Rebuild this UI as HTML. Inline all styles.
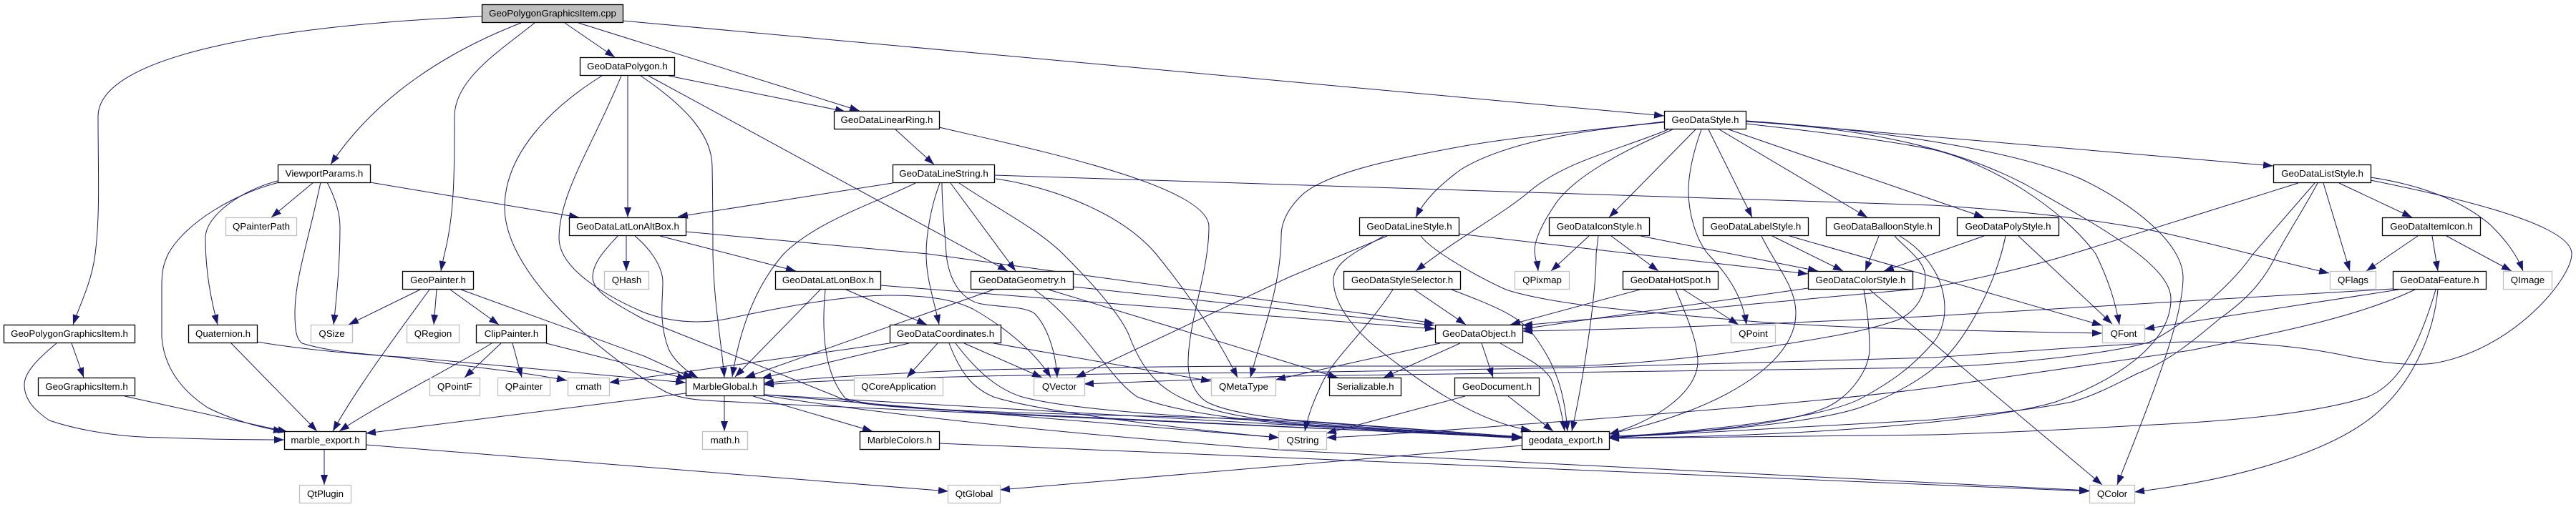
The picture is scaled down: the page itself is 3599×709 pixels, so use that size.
<!DOCTYPE html>
<html><head><meta charset="utf-8"><style>
html,body{margin:0;padding:0;background:#fff;width:3599px;height:709px;overflow:hidden}
svg{display:block}
.e path{fill:none;stroke:#191970;stroke-width:1;marker-end:url(#a)}
.n rect{fill:#fff;stroke:#000;stroke-width:1.3}
.g rect{fill:#fff;stroke:#bfbfbf;stroke-width:1.3}
text{font-family:"Liberation Sans",sans-serif;font-size:13.33px;text-anchor:middle;fill:#000}
</style></head><body>
<svg xmlns="http://www.w3.org/2000/svg" width="3599" height="709" viewBox="0 0 3599 709">
<defs><marker id="a" markerUnits="userSpaceOnUse" markerWidth="14" markerHeight="10" refX="14" refY="5" orient="auto"><path d="M0,0L14,5L0,10z" fill="#191970"/></marker></defs>
<g class="e">
<path d="M673,23C430,33 137,70 137,163C137,240 140,300 133,355C128,395 112,425 102,454"/>
<path d="M728,32C625,72 525,135 462,230"/>
<path d="M747,32C700,70 635,110 635,163C635,240 635,300 621,355Q618,368 616,379"/>
<path d="M789,32L859,80"/>
<path d="M808,32L1201,155"/>
<path d="M870,29L2325,162"/>
<path d="M877,106L877,304"/>
<path d="M934,106L1181,156"/>
<path d="M906,106L1408,379"/>
<path d="M895,106C960,150 995,190 995,233C996,290 996,320 996,355C997,420 1008,480 1012,528"/>
<path d="M841,106C770,150 705,215 705,290C705,390 860,510 930,548C960,562 1000,560 1043,563L2126,612"/>
<path d="M868,106C830,200 781,270 781,333C781,380 860,420 900,437C940,452 985,453 1020,445C1100,428 1180,413 1244,413C1300,413 1335,420 1359,432C1400,455 1445,490 1468,528"/>
<path d="M863,330C850,345 828,365 828,388C828,410 870,430 900,447L1170,555C1190,566 1250,570 1400,578L2126,612"/>
<path d="M1251,181L1305,230"/>
<path d="M1312,178C1450,210 1689,260 1689,317C1689,380 1660,450 1660,508C1660,530 1670,552 1686,562C1710,575 1760,582 1800,587L2126,611"/>
<path d="M1247,256L947,303"/>
<path d="M1279,256C1220,285 1140,310 1095,355C1060,395 1035,450 1023,527"/>
<path d="M1313,256C1300,290 1294,330 1294,355C1294,390 1305,420 1312,454"/>
<path d="M1316,256C1316,290 1320,320 1322,355C1326,395 1345,420 1371,425C1400,430 1430,428 1445,438C1462,455 1475,490 1477,528"/>
<path d="M1328,256L1419,379"/>
<path d="M1340,256C1390,290 1450,320 1485,355C1530,400 1565,440 1577,468C1600,530 1630,548 1663,562C1700,578 1750,585 1800,592L2126,612"/>
<path d="M1391,250C1450,258 1560,290 1615,355C1660,410 1700,470 1729,528"/>
<path d="M1389,245L2700,287C2800,293 2920,305 3010,323C3090,340 3180,365 3254,382"/>
<path d="M2325,170C2230,182 2120,190 2030,207C1950,222 1860,240 1822,270C1800,290 1790,310 1790,330C1790,400 1762,470 1747,528"/>
<path d="M2325,171C2230,180 2110,195 2041,237C2010,260 1990,280 1978,304"/>
<path d="M2331,181C2260,210 2190,225 2140,265C2100,300 2040,330 1978,379"/>
<path d="M2337,181C2270,210 2196,247 2170,290C2150,320 2144,340 2144,350C2144,360 2148,370 2149,379"/>
<path d="M2369,181L2248,304"/>
<path d="M2377,181C2365,215 2359,245 2359,267C2359,300 2370,335 2386,355C2420,390 2435,420 2440,454"/>
<path d="M2387,181L2448,304"/>
<path d="M2402,181L2609,304"/>
<path d="M2415,181L2772,304"/>
<path d="M2439,169L3176,232"/>
<path d="M2439,169C2600,180 2800,205 2907,250C2980,285 3050,340 3050,388C3050,450 3000,570 2958,678"/>
<path d="M2439,170C2580,178 2720,200 2830,258C2930,315 3033,370 3033,418C3033,480 2960,530 2872,562C2780,590 2500,612 2248,612"/>
<path d="M2439,173C2530,183 2630,195 2700,209C2780,228 2880,290 2928,355C2945,390 2955,420 2961,454"/>
<path d="M1938,330L1800,388L1503,528"/>
<path d="M1933,330C1900,350 1863,365 1863,392C1863,430 1900,470 1938,498C1980,530 2060,590 2139,602"/>
<path d="M1985,330C2000,350 2060,385 2104,405C2180,430 2350,440 2431,448C2550,458 2700,462 2937,466"/>
<path d="M2038,327L2526,383"/>
<path d="M2220,330L2167,379"/>
<path d="M2233,330L2230,355C2230,420 2210,540 2196,603"/>
<path d="M2251,330L2317,379"/>
<path d="M2292,330L2540,379"/>
<path d="M2461,330C2480,370 2509,400 2509,438C2509,510 2400,575 2248,607"/>
<path d="M2476,330L2575,379"/>
<path d="M2500,330L2937,455"/>
<path d="M2625,330L2606,379"/>
<path d="M2647,330C2665,350 2690,365 2690,388C2690,410 2680,435 2650,448C2600,465 2550,472 2489,482C2400,497 2300,508 2202,512C2100,512 1900,512 1800,512C1650,512 1400,515 1300,520C1220,524 1140,528 1067,536"/>
<path d="M2654,330C2680,345 2717,380 2717,432C2717,450 2710,470 2700,480C2670,515 2640,535 2604,555C2570,575 2480,595 2248,612"/>
<path d="M2772,330L2632,379"/>
<path d="M2802,330C2790,390 2755,460 2720,498C2690,530 2640,555 2604,568C2560,585 2450,600 2248,612"/>
<path d="M2820,330L2951,453"/>
<path d="M3211,256L2895,355C2830,375 2760,390 2700,402L2127,455"/>
<path d="M3234,256L3148,355C3110,410 3040,460 3004,478C2950,495 2800,510 2700,514L1800,526C1700,530 1600,533 1514,537"/>
<path d="M3238,256C3220,290 3200,320 3181,355C3160,400 3130,425 3102,445C3060,480 3030,505 2987,522C2960,535 2930,552 2895,562C2830,575 2760,580 2700,587L2248,612"/>
<path d="M3246,256L3283,379"/>
<path d="M3268,256L3370,304"/>
<path d="M3312,248C3380,258 3440,280 3480,315C3500,335 3516,355 3525,379"/>
<path d="M3312,252C3400,270 3593,310 3593,355C3593,390 3510,490 3400,508C3370,512 3330,508 3280,498C3220,485 3150,478 3060,478C3000,478 2850,490 2700,500L2202,514L1800,521C1500,522 1200,528 1067,538"/>
<path d="M3378,330L3306,379"/>
<path d="M3398,330L3406,379"/>
<path d="M3418,330L3509,379"/>
<path d="M3343,404L2700,442C2500,452 2300,460 2127,463"/>
<path d="M3351,405L2996,460"/>
<path d="M3374,405C3290,445 3180,465 3060,490L2700,542C2550,562 2300,580 2202,588C2100,595 1950,608 1853,612"/>
<path d="M3403,405C3375,500 3345,540 3308,555C3230,580 3100,590 2987,595C2900,600 2800,605 2700,608L2248,613"/>
<path d="M3406,405C3400,470 3370,530 3331,568C3270,630 3130,670 2982,688"/>
<path d="M2526,403L2127,460"/>
<path d="M2604,405C2610,440 2612,465 2612,488C2612,520 2580,560 2546,572C2500,590 2400,605 2248,610"/>
<path d="M2612,405L2937,678"/>
<path d="M2291,405L2110,454"/>
<path d="M2341,405C2360,450 2372,480 2372,505C2372,550 2310,590 2248,607"/>
<path d="M2352,405L2429,454"/>
<path d="M1946,405C1910,460 1865,500 1850,530C1835,560 1828,580 1823,603"/>
<path d="M1976,405L2048,454"/>
<path d="M2028,405C2080,425 2120,440 2140,465C2175,510 2186,550 2190,603"/>
<path d="M2012,480L1782,531"/>
<path d="M2040,480L1933,528"/>
<path d="M2070,480L2086,528"/>
<path d="M2096,480C2130,500 2155,510 2167,530C2175,550 2183,580 2186,603"/>
<path d="M2047,554L1853,606"/>
<path d="M2107,554L2170,603"/>
<path d="M2126,623L1397,685"/>
<path d="M511,622L1325,687"/>
<path d="M453,629L453,678"/>
<path d="M1012,554L1012,603"/>
<path d="M1052,554L1219,603"/>
<path d="M958,550L511,606"/>
<path d="M1068,552L1787,612"/>
<path d="M1068,552L2126,613"/>
<path d="M1068,553C1300,590 1600,615 1800,630L2919,686"/>
<path d="M1312,620L2919,687"/>
<path d="M1243,480L851,535"/>
<path d="M1270,480L1064,529"/>
<path d="M1310,480L1267,528"/>
<path d="M1326,480C1345,530 1365,545 1388,555C1450,575 1650,600 1787,612"/>
<path d="M1335,480C1365,520 1395,545 1428,555C1500,575 1700,585 1800,590L2126,612"/>
<path d="M1347,480L1456,528"/>
<path d="M1388,480L1692,533"/>
<path d="M1388,405L1041,528"/>
<path d="M1445,405C1510,450 1550,530 1589,555C1640,575 1720,585 1800,593L2126,612"/>
<path d="M1465,405L1869,528"/>
<path d="M1499,401L2004,455"/>
<path d="M1146,405L1027,527"/>
<path d="M1153,405C1148,460 1150,520 1181,557C1240,580 1650,580 1800,588L2126,611"/>
<path d="M1182,405L1295,454"/>
<path d="M1230,399L2005,460"/>
<path d="M875,330L875,379"/>
<path d="M887,330C905,345 926,370 926,395C926,420 920,450 934,488C942,505 960,520 975,528"/>
<path d="M922,330L1112,379"/>
<path d="M958,324L1296,355L2004,452"/>
<path d="M359,478C430,490 520,497 574,500L958,535"/>
<path d="M448,255C430,340 412,390 412,438C412,465 415,475 422,480C470,495 530,495 574,502C650,512 730,520 792,532"/>
<path d="M517,255L809,304"/>
<path d="M438,255L379,304"/>
<path d="M457,255C470,280 475,300 475,317C475,370 470,420 466,454"/>
<path d="M388,253C340,265 287,300 287,333C287,380 295,420 304,454"/>
<path d="M390,255C330,270 260,310 235,355C228,370 226,380 226,400C226,420 226,440 226,472C230,520 260,550 290,570C320,585 360,598 396,603"/>
<path d="M323,480L443,603"/>
<path d="M79,480C55,500 34,520 34,538C34,560 50,575 69,588C120,605 180,612 230,612C280,614 340,615 397,615"/>
<path d="M100,480L117,528"/>
<path d="M174,554L402,604"/>
<path d="M587,405L487,454"/>
<path d="M610,405L606,454"/>
<path d="M629,405L697,454"/>
<path d="M600,405C560,460 500,540 465,603"/>
<path d="M644,405L900,498L968,529"/>
<path d="M687,480C640,510 530,565 474,603"/>
<path d="M700,480L649,528"/>
<path d="M716,480L729,528"/>
<path d="M763,480L960,530"/>
</g>
<g class="n">
<rect x="673.5" y="6.5" width="197" height="25" style="fill:#bfbfbf"/><text x="772" y="23">GeoPolygonGraphicsItem.cpp</text>
<rect x="810.5" y="80.5" width="132" height="25"/><text x="876.5" y="97">GeoDataPolygon.h</text>
<rect x="1165.5" y="155.5" width="147" height="25"/><text x="1239" y="172">GeoDataLinearRing.h</text>
<rect x="2325.5" y="155.5" width="114" height="25"/><text x="2382.5" y="172">GeoDataStyle.h</text>
<rect x="388.5" y="230.5" width="129" height="25"/><text x="453" y="247">ViewportParams.h</text>
<rect x="1247.5" y="230.5" width="142" height="25"/><text x="1318.5" y="247">GeoDataLineString.h</text>
<rect x="3176.5" y="230.5" width="136" height="25"/><text x="3244.5" y="247">GeoDataListStyle.h</text>
<rect x="795.5" y="304.5" width="163" height="25"/><text x="877" y="321">GeoDataLatLonAltBox.h</text>
<rect x="1899.5" y="304.5" width="139" height="25"/><text x="1969" y="321">GeoDataLineStyle.h</text>
<rect x="2164.5" y="304.5" width="140" height="25"/><text x="2234.5" y="321">GeoDataIconStyle.h</text>
<rect x="2379.5" y="304.5" width="147" height="25"/><text x="2453" y="321">GeoDataLabelStyle.h</text>
<rect x="2551.5" y="304.5" width="158" height="25"/><text x="2630.5" y="321">GeoDataBalloonStyle.h</text>
<rect x="2734.5" y="304.5" width="142" height="25"/><text x="2805.5" y="321">GeoDataPolyStyle.h</text>
<rect x="3328.5" y="304.5" width="137" height="25"/><text x="3397" y="321">GeoDataItemIcon.h</text>
<rect x="562.5" y="379.5" width="99" height="25"/><text x="612" y="396">GeoPainter.h</text>
<rect x="1083.5" y="379.5" width="147" height="25"/><text x="1157" y="396">GeoDataLatLonBox.h</text>
<rect x="1356.5" y="379.5" width="143" height="25"/><text x="1428" y="396">GeoDataGeometry.h</text>
<rect x="1877.5" y="379.5" width="163" height="25"/><text x="1959" y="396">GeoDataStyleSelector.h</text>
<rect x="2267.5" y="379.5" width="133" height="25"/><text x="2334" y="396">GeoDataHotSpot.h</text>
<rect x="2526.5" y="379.5" width="146" height="25"/><text x="2599.5" y="396">GeoDataColorStyle.h</text>
<rect x="3343.5" y="379.5" width="130" height="25"/><text x="3408.5" y="396">GeoDataFeature.h</text>
<rect x="5.5" y="454.5" width="183" height="25"/><text x="97" y="471">GeoPolygonGraphicsItem.h</text>
<rect x="263.5" y="454.5" width="96" height="25"/><text x="311.5" y="471">Quaternion.h</text>
<rect x="665.5" y="454.5" width="98" height="25"/><text x="714.5" y="471">ClipPainter.h</text>
<rect x="1243.5" y="454.5" width="155" height="25"/><text x="1321" y="471">GeoDataCoordinates.h</text>
<rect x="2005.5" y="454.5" width="122" height="25"/><text x="2066.5" y="471">GeoDataObject.h</text>
<rect x="53.5" y="528.5" width="135" height="25"/><text x="121" y="545">GeoGraphicsItem.h</text>
<rect x="958.5" y="528.5" width="109" height="25"/><text x="1013" y="545">MarbleGlobal.h</text>
<rect x="1857.5" y="528.5" width="100" height="25"/><text x="1907.5" y="545">Serializable.h</text>
<rect x="2032.5" y="528.5" width="118" height="25"/><text x="2091.5" y="545">GeoDocument.h</text>
<rect x="397.5" y="603.5" width="114" height="25"/><text x="454.5" y="620">marble_export.h</text>
<rect x="1201.5" y="603.5" width="111" height="25"/><text x="1257" y="620">MarbleColors.h</text>
<rect x="2126.5" y="603.5" width="122" height="25"/><text x="2187.5" y="620">geodata_export.h</text>
</g>
<g class="g">
<rect x="315.5" y="304.5" width="99" height="25"/><text x="365" y="321">QPainterPath</text>
<rect x="844.5" y="379.5" width="62" height="25"/><text x="875.5" y="396">QHash</text>
<rect x="2116.5" y="379.5" width="76" height="25"/><text x="2154.5" y="396">QPixmap</text>
<rect x="3255.5" y="379.5" width="64" height="25"/><text x="3287.5" y="396">QFlags</text>
<rect x="3497.5" y="379.5" width="68" height="25"/><text x="3531.5" y="396">QImage</text>
<rect x="434.5" y="454.5" width="58" height="25"/><text x="463.5" y="471">QSize</text>
<rect x="568.5" y="454.5" width="73" height="25"/><text x="605" y="471">QRegion</text>
<rect x="2418.5" y="454.5" width="62" height="25"/><text x="2449.5" y="471">QPoint</text>
<rect x="2937.5" y="454.5" width="59" height="25"/><text x="2967" y="471">QFont</text>
<rect x="600.5" y="528.5" width="70" height="25"/><text x="635.5" y="545">QPointF</text>
<rect x="695.5" y="528.5" width="73" height="25"/><text x="732" y="545">QPainter</text>
<rect x="793.5" y="528.5" width="58" height="25"/><text x="822.5" y="545">cmath</text>
<rect x="1193.5" y="528.5" width="124" height="25"/><text x="1255.5" y="545">QCoreApplication</text>
<rect x="1444.5" y="528.5" width="71" height="25"/><text x="1480" y="545">QVector</text>
<rect x="1692.5" y="528.5" width="90" height="25"/><text x="1737.5" y="545">QMetaType</text>
<rect x="981.5" y="603.5" width="63" height="25"/><text x="1013" y="620">math.h</text>
<rect x="1786.5" y="603.5" width="67" height="25"/><text x="1820" y="620">QString</text>
<rect x="418.5" y="678.5" width="72" height="25"/><text x="454.5" y="695">QtPlugin</text>
<rect x="1324.5" y="678.5" width="73" height="25"/><text x="1361" y="695">QtGlobal</text>
<rect x="2919.5" y="678.5" width="63" height="25"/><text x="2951" y="695">QColor</text>
</g>
</svg>
</body></html>
